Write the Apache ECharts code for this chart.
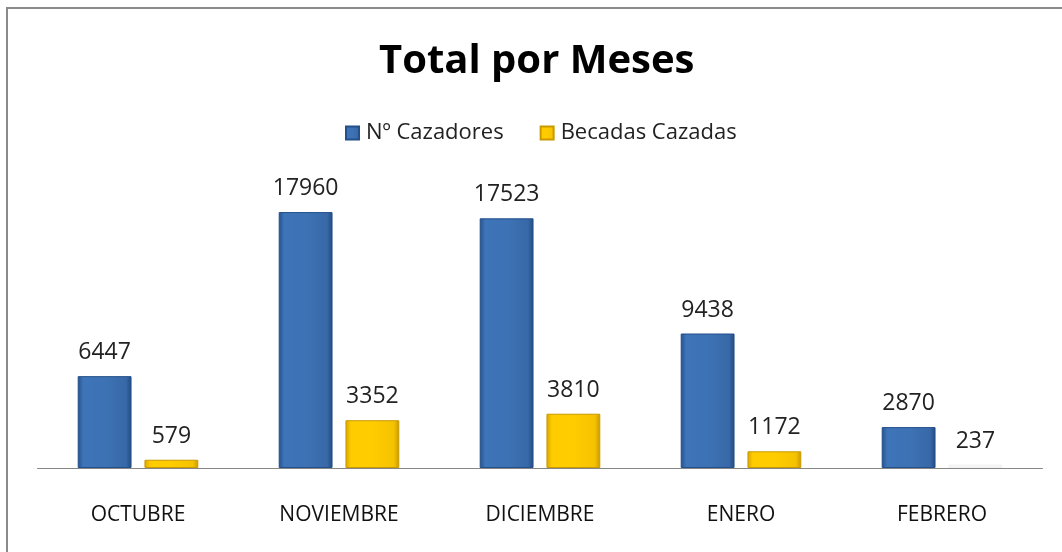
<!DOCTYPE html>
<html>
<head>
<meta charset="utf-8">
<script src="https://cdn.jsdelivr.net/npm/echarts@6/dist/echarts.min.js"></script>
<style>html,body{margin:0;padding:0;background:#fff;}#c{width:1062px;height:552px;}</style>
</head>
<body>
<div id="c"></div>
<script>
const categories = ['OCTUBRE', 'NOVIEMBRE', 'DICIEMBRE', 'ENERO', 'FEBRERO'];
const cazadores = [6447, 17960, 17523, 9438, 2870];
const becadas = [579, 3352, 3810, 1172, 237];
const seriesNames = ['Nº Cazadores', 'Becadas Cazadas'];

const FONT = '"Open Sans", "Noto Sans", sans-serif';
const blueFill = new echarts.graphic.LinearGradient(0, 0, 1, 0, [
  {offset: 0, color: '#24508c'}, {offset: 0.1, color: '#3e74b8'},
  {offset: 0.5, color: '#3d73b5'}, {offset: 0.9, color: '#3868a8'}, {offset: 1, color: '#22497f'}
]);
const yellowFill = new echarts.graphic.LinearGradient(0, 0, 1, 0, [
  {offset: 0, color: '#d9a400'}, {offset: 0.1, color: '#ffcc00'},
  {offset: 0.5, color: '#ffcc00'}, {offset: 0.9, color: '#f5c200'}, {offset: 1, color: '#c99700'}
]);

const chart = echarts.init(document.getElementById('c'));
chart.setOption({
  animation: false,
  backgroundColor: '#fff',
  graphic: [{
    type: 'rect', shape: {x: 7, y: 8, width: 1070, height: 560},
    style: {fill: 'none', stroke: '#8a8a8a', lineWidth: 2}, silent: true
  }],
  title: {
    text: 'Total por Meses', left: 374, top: 37,
    textStyle: {fontFamily: FONT, fontSize: 40, fontWeight: 'bold', color: '#000'}
  },
  legend: {
    top: 117, left: 340, itemWidth: 13, itemHeight: 13, itemGap: 36,
    icon: 'rect',
    textStyle: {fontFamily: FONT, fontSize: 22, color: '#222', padding: [0, 0, 0, 2]},
    data: seriesNames
  },
  grid: {left: 37.5, right: 19.5, top: 183, bottom: 84, containLabel: false},
  xAxis: {
    type: 'category', data: categories,
    axisLine: {lineStyle: {color: '#868686', width: 1}},
    axisTick: {show: false},
    axisLabel: {fontFamily: FONT, fontSize: 21, color: '#111', margin: 37}
  },
  yAxis: {
    type: 'value', min: 0, max: 20000, interval: 5000,
    show: false, splitLine: {show: false}
  },
  series: [{
    name: seriesNames[0], type: 'bar', data: cazadores,
    barCategoryGap: '40%', barGap: '24%',
    itemStyle: {color: blueFill, borderColor: '#234f8a', borderWidth: 1},
    label: {show: true, position: 'top', distance: 12, fontFamily: FONT, fontSize: 23, color: '#222'}
  }, {
    name: seriesNames[1], type: 'bar',
    data: becadas.map((v, i) => i === 4 ? {value: v, itemStyle: {color: '#f7f7f7', borderColor: '#f0f0f0'}} : v),
    itemStyle: {color: yellowFill, borderColor: '#c99a00', borderWidth: 1},
    label: {show: true, position: 'top', distance: 12, fontFamily: FONT, fontSize: 23, color: '#222'}
  }],
  color: ['#3a6fb2', '#ffcc00']
});
</script>
</body>
</html>
